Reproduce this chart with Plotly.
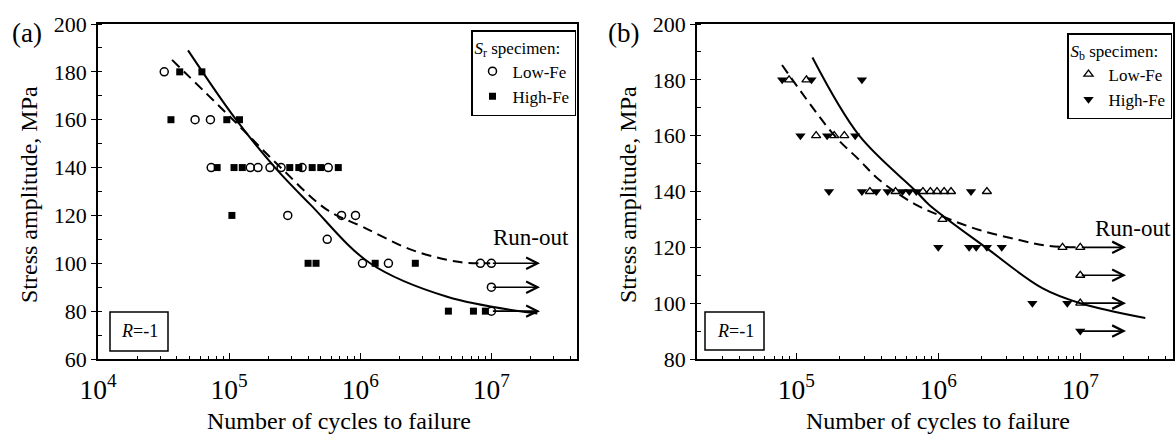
import math
import plotly.graph_objects as go

# ---------------- data ----------------
# Panel (a): S_r specimens
a_low_N = [3.2e4, 5.5e4, 7.2e4,
           7.3e4, 1.45e5, 1.66e5, 2.05e5, 2.49e5, 3.6e5, 5.7e5,
           2.8e5, 7.2e5, 9.2e5,
           5.6e5,
           1.04e6, 1.64e6, 8.25e6, 1.0e7,
           1.0e7,
           1.0e7]
a_low_S = [180, 160, 160,
           140, 140, 140, 140, 140, 140, 140,
           120, 120, 120,
           110,
           100, 100, 100, 100,
           90,
           80]
a_high_N = [4.2e4, 6.2e4,
            3.6e4, 9.6e4, 1.2e5,
            8.1e4, 1.09e5, 1.26e5, 2.9e5, 3.4e5, 4.3e5, 5.0e5, 6.8e5,
            1.05e5,
            4.0e5, 4.6e5, 1.3e6, 2.63e6,
            4.7e6, 7.3e6, 9.0e6]
a_high_S = [180, 180,
            160, 160, 160,
            140, 140, 140, 140, 140, 140, 140, 140,
            120,
            100, 100, 100, 100,
            80, 80, 80]
# fitted curves (a)
a_dash_N = [3.67e4, 1.07e5, 2.37e5, 5.6e5, 1.05e6, 2.5e6, 5.75e6, 9.8e6]
a_dash_S = [185, 160, 141, 122.3, 115.2, 105.5, 100.5, 100]
a_solid_N = [4.86e4, 1.13e5, 2.24e5, 4.17e5, 1.19e6, 4.6e6, 2.24e7]
a_solid_S = [189, 160, 140, 124.5, 100, 86, 79]
# run-outs (a)
a_runout_S = [100, 90, 80]
a_runout_start = 1.0e7
a_runout_end = 2.35e7

# Panel (b): S_b specimens
b_low_N = [8.9e4, 1.18e5,
           1.38e5, 1.85e5, 2.18e5,
           3.3e5, 5.0e5, 7.8e5, 8.8e5, 9.8e5, 1.1e6, 1.23e6, 2.2e6,
           1.07e6,
           7.5e6, 1.0e7,
           1.0e7,
           1.0e7]
b_low_S = [180, 180,
           160, 160, 160,
           140, 140, 140, 140, 140, 140, 140, 140,
           130,
           120, 120,
           110,
           100]
b_high_N = [7.96e4, 1.28e5, 2.9e5,
            1.07e5, 1.65e5, 2.6e5,
            1.7e5, 2.9e5, 3.66e5, 4.4e5, 5.6e5, 6.25e5, 7.0e5, 1.7e6,
            1.0e6, 1.65e6, 1.85e6, 2.2e6, 2.8e6,
            4.6e6, 8.1e6,
            1.0e7]
b_high_S = [180, 180, 180,
            160, 160, 160,
            140, 140, 140, 140, 140, 140, 140, 140,
            120, 120, 120, 120, 120,
            100, 100,
            90]
# fitted curves (b)
b_dash_N = [7.94e4, 1.86e5, 2.78e5, 3.85e5, 7.0e5, 1.14e6, 1.95e6, 3.72e6, 5.75e6, 1.0e7]
b_dash_S = [185.3, 160, 151.3, 144.1, 135.2, 130.5, 126.2, 122.6, 120.6, 120]
b_solid_N = [1.3e5, 2.78e5, 7.0e5, 8.65e5, 2.18e6, 5.4e6, 1.0e7, 2.87e7]
b_solid_S = [188, 160, 140, 135.2, 119.8, 105.4, 100, 94.7]
# run-outs (b)
b_runout_S = [120, 110, 100, 90]
b_runout_start = 1.0e7
b_runout_end = 2.1e7

# ---------------- figure ----------------
FONT = "Liberation Serif"
W, H = 1175, 436

def px_x(p):
    return p / W

def px_y(p):
    return 1 - p / H

fig = go.Figure()

# panel (a)
fig.add_trace(go.Scatter(x=a_dash_N, y=a_dash_S, mode="lines", line_shape="spline",
                         line=dict(color="black", width=2, dash="10px,6px"),
                         showlegend=False, xaxis="x", yaxis="y", hoverinfo="skip"))
fig.add_trace(go.Scatter(x=a_solid_N, y=a_solid_S, mode="lines", line_shape="spline",
                         line=dict(color="black", width=2),
                         showlegend=False, xaxis="x", yaxis="y", hoverinfo="skip"))
fig.add_trace(go.Scatter(x=a_low_N, y=a_low_S, mode="markers", name="Low-Fe",
                         marker=dict(symbol="circle-open", size=8, color="black",
                                     line=dict(width=1.5, color="black")),
                         xaxis="x", yaxis="y", legend="legend"))
fig.add_trace(go.Scatter(x=a_high_N, y=a_high_S, mode="markers", name="High-Fe",
                         marker=dict(symbol="square", size=7, color="black"),
                         xaxis="x", yaxis="y", legend="legend"))

# panel (b)
fig.add_trace(go.Scatter(x=b_dash_N, y=b_dash_S, mode="lines", line_shape="spline",
                         line=dict(color="black", width=2, dash="10px,6px"),
                         showlegend=False, xaxis="x2", yaxis="y2", hoverinfo="skip"))
fig.add_trace(go.Scatter(x=b_solid_N, y=b_solid_S, mode="lines", line_shape="spline",
                         line=dict(color="black", width=2),
                         showlegend=False, xaxis="x2", yaxis="y2", hoverinfo="skip"))
fig.add_trace(go.Scatter(x=b_low_N, y=b_low_S, mode="markers", name="Low-Fe",
                         marker=dict(symbol="triangle-up-open", size=8, color="black",
                                     line=dict(width=1.3, color="black")),
                         xaxis="x2", yaxis="y2", legend="legend2"))
fig.add_trace(go.Scatter(x=b_high_N, y=b_high_S, mode="markers", name="High-Fe",
                         marker=dict(symbol="triangle-down", size=9, color="black"),
                         xaxis="x2", yaxis="y2", legend="legend2"))

axis_common = dict(showline=True, linecolor="black", linewidth=1.8, mirror=True,
                   showgrid=False, zeroline=False, automargin=False,
                   tickfont=dict(family=FONT, size=22, color="black"))

xa = dict(axis_common, type="log", dtick=1, exponentformat="power",
          ticks="inside", ticklen=6, tickwidth=1.3, tickcolor="black",
          minor=dict(ticks="inside", ticklen=3, tickwidth=1, tickcolor="black",
                     dtick="D1", showgrid=False),
          ticklabelstandoff=6)
ya = dict(axis_common, dtick=20, ticks="outside", ticklen=5, tickwidth=1.3,
          tickcolor="black",
          minor=dict(ticks="inside", ticklen=4, tickwidth=1, tickcolor="black",
                     dtick=10, showgrid=False))

annotations = []
# run-out arrows
for s in a_runout_S:
    annotations.append(dict(xref="x", yref="y", axref="x", ayref="y",
                            x=math.log10(a_runout_end), y=s,
                            ax=math.log10(a_runout_start), ay=s,
                            text="", showarrow=True, arrowhead=5, arrowsize=1.4,
                            arrowwidth=1.6, arrowcolor="black", standoff=0))
for s in b_runout_S:
    annotations.append(dict(xref="x2", yref="y2", axref="x2", ayref="y2",
                            x=math.log10(b_runout_end), y=s,
                            ax=math.log10(b_runout_start), ay=s,
                            text="", showarrow=True, arrowhead=5, arrowsize=1.4,
                            arrowwidth=1.6, arrowcolor="black", standoff=0))

def txt(text, x, y, size, angle=0, xanchor="center"):
    annotations.append(dict(xref="paper", yref="paper", x=px_x(x), y=px_y(y),
                            text=text, showarrow=False, textangle=angle,
                            xanchor=xanchor, yanchor="middle",
                            font=dict(family=FONT, size=size, color="black")))

txt("(a)", 27, 33, 27)
txt("(b)", 623, 33, 27)
txt("Run-out", 531, 238, 23)
txt("Run-out", 1133, 228, 23)
txt("<i>R</i>=-1", 139, 331, 18)
txt("<i>R</i>=-1", 735, 331, 18)
txt("Stress amplitude, MPa", 29, 195, 24, angle=-90)
txt("Stress amplitude, MPa", 628, 195, 24, angle=-90)
txt("Number of cycles to failure", 339, 421, 24)
txt("Number of cycles to failure", 938, 421, 24)

shapes = [
    dict(type="rect", xref="paper", yref="paper",
         x0=px_x(110), x1=px_x(168), y0=px_y(351), y1=px_y(312),
         line=dict(color="black", width=1.5)),
    dict(type="rect", xref="paper", yref="paper",
         x0=px_x(705), x1=px_x(764), y0=px_y(350), y1=px_y(312),
         line=dict(color="black", width=1.5)),
]

legend_common = dict(bordercolor="black", borderwidth=1.5, bgcolor="white",
                     font=dict(family=FONT, size=17, color="black"),
                     itemwidth=30, tracegroupgap=0, yanchor="top", xanchor="right")

fig.update_layout(
    template="none",
    width=W, height=H,
    margin=dict(l=0, r=0, t=0, b=0, pad=0, autoexpand=False),
    paper_bgcolor="white", plot_bgcolor="white",
    xaxis=dict(xa, domain=[px_x(98), px_x(577)], range=[4, 7.653], anchor="y"),
    yaxis=dict(ya, domain=[px_y(359), px_y(24)], range=[60, 200], anchor="x"),
    xaxis2=dict(xa, domain=[px_x(697), px_x(1173)], range=[4.301, 7.653], anchor="y2"),
    yaxis2=dict(ya, domain=[px_y(359), px_y(24)], range=[80, 200], anchor="x2"),
    legend=dict(legend_common, x=px_x(576), y=px_y(30),
                title=dict(text="<i>S</i><sub>r</sub> specimen:",
                           font=dict(family=FONT, size=17, color="black"))),
    legend2=dict(legend_common, x=px_x(1172), y=px_y(33),
                 title=dict(text="<i>S</i><sub>b</sub> specimen:",
                            font=dict(family=FONT, size=17, color="black"))),
    annotations=annotations,
    shapes=shapes,
    font=dict(family=FONT, color="black"),
)

fig.write_html("out.html",
               config={"displayModeBar": False},
               post_script="document.body.style.margin='0px';"
                           "document.body.style.overflow='hidden';")
